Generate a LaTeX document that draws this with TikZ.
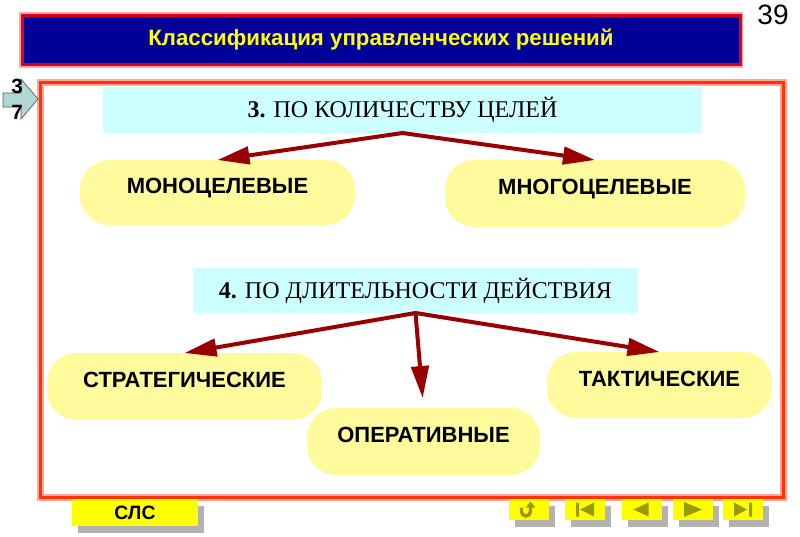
\documentclass[tikz,border=0pt]{standalone}
\usepackage{fontspec}
\setmainfont{Liberation Sans}
\newfontfamily\tms{Liberation Serif}
\usetikzlibrary{arrows.meta,shadows}
\definecolor{navy}{RGB}{0,0,153}
\definecolor{frm}{RGB}{255,51,0}
\definecolor{halo}{RGB}{255,165,155}
\definecolor{tred}{RGB}{220,0,40}
\definecolor{cy}{RGB}{204,255,255}
\definecolor{py}{RGB}{255,250,155}
\definecolor{dr}{RGB}{153,0,0}
\definecolor{yb}{RGB}{255,255,0}
\definecolor{ol}{RGB}{153,153,0}
\definecolor{sh}{RGB}{178,178,178}
\definecolor{ar}{RGB}{176,214,214}
\tikzset{c/.style={rectangle,fill=cy,inner sep=0,font=\tms\fontsize{18}{20}\selectfont},
            p/.style={rectangle,rounded corners=22pt,fill=py,inner sep=0,text height=11pt,text depth=9pt,font=\bfseries\fontsize{16.5}{18}\selectfont},
            a/.style={draw=dr,line width=3pt,-{Triangle[length=24pt,width=13pt]}},
            k/.style={rectangle,fill=yb,inner sep=0,minimum width=30pt,minimum height=15.75pt,general shadow={fill=sh,shadow xshift=4.5pt,shadow yshift=-5.25pt}},
            ic/.style={fill=ol}, outer sep=0pt}

\begin{document}
\begin{tikzpicture}[x=0.75pt,y=-0.75pt]
\useasboundingbox (0,0) rectangle (800,536);
\node[rectangle,fill=navy,draw=tred,line width=2.25pt,preaction={draw=halo,line width=5pt},minimum width=538.5pt,minimum height=36.75pt,text=yb,font=\bfseries\fontsize{16.7}{18}\selectfont] at (381,40)(0){Классификация управленческих решений};
\node[font=\fontsize{21}{23}\selectfont] at (773,15)(1){39};
\draw[halo,line width=5.25pt] (40,82) rectangle (783,497);
\draw[frm,line width=2.25pt] (40,82) rectangle (783,497);
\draw[fill=ar,draw=gray!70!black,line width=0.5pt] (3,93) -- (21,93) -- (21,79) -- (38,99) -- (21,119) -- (21,107) -- (3,107) -- cycle;
\node[font=\bfseries\fontsize{15.5}{17}\selectfont] at (17,86)(2){3};
\node[font=\bfseries\fontsize{15.5}{17}\selectfont] at (17,112)(3){7};
\node[c,minimum width=449.25pt,minimum height=34.5pt] at (402.5,110)(4){\textbf{3.} ПО КОЛИЧЕСТВУ ЦЕЛЕЙ};
\node[c,minimum width=333.75pt,minimum height=33.75pt] at (415.5,290.5)(5){\textbf{4.} ПО ДЛИТЕЛЬНОСТИ ДЕЙСТВИЯ};
\node[p,minimum width=206.25pt,minimum height=48.75pt] at (217.5,192.5)(6){МОНОЦЕЛЕВЫЕ};
\node[p,minimum width=225pt,minimum height=50.25pt] at (595,193.5)(7){МНОГОЦЕЛЕВЫЕ};
\node[p,minimum width=206.25pt,minimum height=50.25pt] at (184.5,386.5)(8){СТРАТЕГИЧЕСКИЕ};
\node[p,minimum width=174.75pt,minimum height=50.25pt] at (423.5,441.5)(9){ОПЕРАТИВНЫЕ};
\node[p,minimum width=168.75pt,minimum height=49.5pt] at (659.5,385)(10){ТАКТИЧЕСКИЕ};
\draw[a,{Triangle[length=24pt,width=13pt]}-{Triangle[length=24pt,width=13pt]}] (6.north) -- (4.south) -- (7.north);
\draw[a,{Triangle[length=24pt,width=13pt]}-{Triangle[length=24pt,width=13pt]}] (8.north) -- (5.south) -- (10.north);
\draw[a,shorten >=7.5pt] (5.south) -- (9.north);
\node[k,minimum width=94.5pt,minimum height=20.25pt,font=\bfseries\fontsize{14.5}{16}\selectfont] at (135,512.5)(11){СЛС};
\node[k] at (528.5,509.5)(12){};
\node[k] at (585,509.5)(13){};
\node[k] at (641.5,509.5)(14){};
\node[k] at (693,509.5)(15){};
\node[k] at (743,509.5)(16){};
\draw[ol,line width=2.6pt,-{Triangle[length=4.5pt,width=7pt]},shift={(12)}] (-7,-2) -- (-7,2) arc[start angle=180,end angle=0,radius=4.5] -- (2,-8);
\fill[ic,shift={(13)}] (-9,-7) rectangle (-6,7) (-5,0) -- (9,-7) -- (9,7) -- cycle;
\fill[ic,shift={(14)}] (-8,0) -- (7,-7) -- (7,7) -- cycle;
\fill[ic,shift={(15)}] (9,0) -- (-9,-7.5) -- (-9,7.5) -- cycle;
\fill[ic,shift={(16)}] (4,0) -- (-9,-7) -- (-9,7) -- cycle (6,-7) rectangle (9,7);
\end{tikzpicture}
\end{document}
